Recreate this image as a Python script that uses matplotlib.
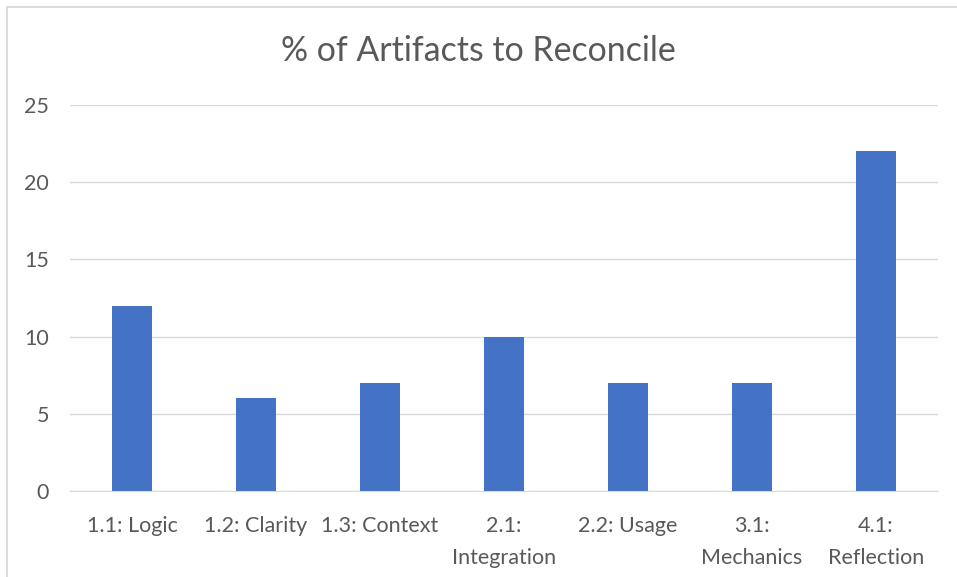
import matplotlib
matplotlib.use("Agg")
import matplotlib.pyplot as plt
from matplotlib.patches import Rectangle

categories = ["1.1: Logic", "1.2: Clarity", "1.3: Context", "2.1:\nIntegration",
              "2.2: Usage", "3.1:\nMechanics", "4.1:\nReflection"]
values = [12, 6, 7, 10, 7, 7, 22]
yticks = [0, 5, 10, 15, 20, 25]
title = "% of Artifacts to Reconcile"

plt.rcParams['font.family'] = ['Lato', 'DejaVu Sans']
fig = plt.figure(figsize=(9.57, 5.77), dpi=100)
ax = fig.add_axes([70/957, 1-491/577, 868/957, (491-105)/577])

x = list(range(len(categories)))
ax.bar(x, values, width=0.32, color="#4472C4", zorder=3)
ax.set_xlim(-0.5, len(categories)-0.5)
ax.set_ylim(0, 25)
ax.set_yticks(yticks)
ax.set_xticks(x)
ax.set_xticklabels(categories, fontsize=15.5, color="#595959", linespacing=1.75, va="top")
ax.tick_params(axis='y', labelsize=15.5, labelcolor="#595959", length=0, pad=15)
ax.tick_params(axis='x', length=0, pad=18)
ax.grid(axis='y', color="#d9d9d9", linewidth=1, zorder=0)
for s in ["top", "right", "left"]:
    ax.spines[s].set_visible(False)
ax.spines["bottom"].set_color("#d9d9d9")
ax.spines["bottom"].set_zorder(4)
fig.suptitle(title, y=1-51/577, va="center", fontsize=24.4, color="#595959")
fig.patches.append(Rectangle((7/957, -0.1), 1.2, 1.1-7.5/577, transform=fig.transFigure,
                             fill=False, edgecolor="#d9d9d9", linewidth=1.3))
fig.savefig("out.png", dpi=100)
